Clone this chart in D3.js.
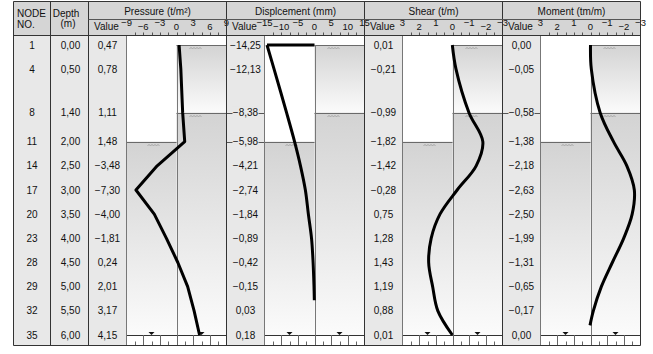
<!DOCTYPE html>
<html>
<head>
<meta charset="utf-8">
<script src="https://cdn.jsdelivr.net/npm/d3@7"></script>
<style>
  body { margin: 0; background: #fff; }
  svg { display: block; font-family: "Liberation Sans", Arial, sans-serif; }
</style>
</head>
<body>
<div id="viz"></div>
<script>
// table rows
const nodes = [1, 4, 8, 11, 14, 17, 20, 23, 28, 29, 32, 35];
const depths = [0.0, 0.5, 1.4, 2.0, 2.5, 3.0, 3.5, 4.0, 4.5, 5.0, 5.5, 6.0];
const pressure = [0.47, 0.78, 1.11, 1.48, -3.48, -7.30, -4.00, -1.81, 0.24, 2.01, 3.17, 4.15];
const displacement = [-14.25, -12.13, -8.38, -5.98, -4.21, -2.74, -1.84, -0.89, -0.42, -0.15, 0.03, 0.18];
const shear = [0.01, -0.21, -0.99, -1.82, -1.42, -0.28, 0.75, 1.28, 1.43, 1.19, 0.88, 0.01];
const moment = [0.00, -0.05, -0.58, -1.38, -2.18, -2.63, -2.50, -1.99, -1.31, -0.65, -0.17, 0.00];

// where the drawn curves stop (depth, value)
const dispCurveEnd = [5.28, -0.05];
const momentCurveEnd = [5.8, 0.03];

// soil layers: retained side tops, excavation side top
const layerTops = [0.0, 1.4];
const excavationDepth = 2.0;

// axis labels in the header
const pressureTicks = [-9, -6, -3, 0, 3, 6, 9];
const dispTicks = [-15, -10, -5, 0, 5, 10, 15];
const shearTicks = [3, 2, 1, 0, -1, -2, -3];
const momentTicks = [3, 2, 1, 0, -1, -2, -3];

const width = 653, height = 354;
const leftX = 13.5, rightX = 640.5, topY = 1.5, headMid = 19.5, headBottom = 35.5, bottomY = 345.5;
const depthX = 50.5, panelX = 88.5;
const panelW = 138, valueW = 38;

const svg = d3.select("#viz").append("svg")
  .attr("width", width)
  .attr("height", height);

const defs = svg.append("defs");
const grad = defs.append("linearGradient")
  .attr("id", "layerGrad")
  .attr("x1", 0).attr("y1", 0).attr("x2", 0).attr("y2", 1);
grad.append("stop").attr("offset", 0).attr("stop-color", "#d3d3d3");
grad.append("stop").attr("offset", 1).attr("stop-color", "#fbfbfb");

const yScale = d3.scaleLinear().domain([0, 6]).range([45, 335]);
const fmt = v => d3.format(".2f")(v).replace(".", ",");
const tickFmt = v => String(v).replace("-", "\u2212");

// body backgrounds for node / depth columns
svg.append("rect")
  .attr("x", leftX).attr("y", headBottom)
  .attr("width", panelX - leftX).attr("height", bottomY - headBottom)
  .attr("fill", "#e8e8e8");

// header background
svg.append("rect")
  .attr("x", leftX).attr("y", topY)
  .attr("width", rightX - leftX).attr("height", headBottom - topY)
  .attr("fill", "#d5d5d5");

svg.append("text").attr("x", 17).attr("y", 17).text("NODE")
  .attr("font-size", "10px").attr("fill", "#111");
svg.append("text").attr("x", 17).attr("y", 28).text("NO.")
  .attr("font-size", "10px").attr("fill", "#111");
svg.append("text").attr("x", 66).attr("y", 17).text("Depth")
  .attr("text-anchor", "middle").attr("font-size", "10px").attr("fill", "#111");
svg.append("text").attr("x", 68).attr("y", 27).text("(m)")
  .attr("text-anchor", "middle").attr("font-size", "10px").attr("fill", "#111");

// node + depth text
svg.append("g")
  .selectAll("text")
  .data(nodes)
  .join("text")
  .text(d => d)
  .attr("x", (leftX + depthX) / 2)
  .attr("y", (d, i) => yScale(depths[i]) + 3.6)
  .attr("text-anchor", "middle")
  .attr("font-size", "10px")
  .attr("fill", "#111");

svg.append("g")
  .selectAll("text")
  .data(depths)
  .join("text")
  .text(d => fmt(d))
  .attr("x", (depthX + panelX) / 2 + 1)
  .attr("y", d => yScale(d) + 3.6)
  .attr("text-anchor", "middle")
  .attr("font-size", "10px")
  .attr("fill", "#111");

const panels = [
  {title: "Pressure (t/m\u00b2)", values: pressure, domain: [-9, 9], ticks: pressureTicks,
   curve: d3.curveLinear, end: null, topBar: false, stubs: []},
  {title: "Displcement (mm)", values: displacement, domain: [-15, 15], ticks: dispTicks,
   curve: d3.curveCatmullRom, end: dispCurveEnd, topBar: true, stubs: [layerTops[1], excavationDepth]},
  {title: "Shear (t/m)", values: shear, domain: [3, -3], ticks: shearTicks,
   curve: d3.curveCatmullRom, end: null, topBar: false, stubs: []},
  {title: "Moment (tm/m)", values: moment, domain: [3, -3], ticks: momentTicks,
   curve: d3.curveCatmullRom, end: momentCurveEnd, topBar: false, stubs: [layerTops[1]]}
];

function wave(x, y) {
  // tiny water-table squiggle
  let p = `M${x},${y}`;
  for (let k = 0; k < 4; k++) p += " q1.5,-1.6 3,0";
  return p;
}

panels.forEach((p, pi) => {
  const x0 = panelX + pi * panelW;
  const px0 = x0 + valueW, px1 = x0 + panelW;
  const g = svg.append("g");
  const xScale = d3.scaleLinear().domain(p.domain).range([px0, px1]);
  const cx = (px0 + px1) / 2;

  // value column + plot backgrounds
  g.append("rect").attr("x", x0).attr("y", headBottom)
    .attr("width", valueW).attr("height", bottomY - headBottom).attr("fill", "#e8e8e8");
  g.append("rect").attr("x", px0).attr("y", headBottom)
    .attr("width", px1 - px0).attr("height", bottomY - headBottom).attr("fill", "#fff");

  // soil layers, retained side (right half)
  const bandTops = layerTops.concat([6]);
  for (let k = 0; k < layerTops.length; k++) {
    g.append("rect")
      .attr("x", cx).attr("y", yScale(bandTops[k]))
      .attr("width", px1 - cx).attr("height", yScale(bandTops[k + 1]) - yScale(bandTops[k]))
      .attr("fill", "url(#layerGrad)");
  }
  // excavation side (left half)
  g.append("rect")
    .attr("x", px0).attr("y", yScale(excavationDepth))
    .attr("width", cx - px0).attr("height", yScale(6) - yScale(excavationDepth))
    .attr("fill", "url(#layerGrad)");

  layerTops.forEach(d => {
    g.append("line").attr("x1", cx).attr("x2", px1)
      .attr("y1", Math.round(yScale(d)) + 0.5).attr("y2", Math.round(yScale(d)) + 0.5)
      .attr("stroke", "#6a6a6a");
    g.append("path").attr("d", wave(cx + 13, Math.round(yScale(d)) + 3.5))
      .attr("fill", "none").attr("stroke", "#9a9a9a").attr("stroke-width", 0.8);
  });
  g.append("line").attr("x1", px0).attr("x2", cx)
    .attr("y1", Math.round(yScale(excavationDepth)) + 0.5).attr("y2", Math.round(yScale(excavationDepth)) + 0.5)
    .attr("stroke", "#6a6a6a");
  g.append("path").attr("d", wave(px0 + 21, Math.round(yScale(excavationDepth)) + 3.5))
    .attr("fill", "none").attr("stroke", "#9a9a9a").attr("stroke-width", 0.8);

  // boundary stubs crossing the value column
  p.stubs.forEach(d => {
    g.append("line").attr("x1", x0).attr("x2", px0)
      .attr("y1", Math.round(yScale(d)) + 0.5).attr("y2", Math.round(yScale(d)) + 0.5)
      .attr("stroke", "#555");
  });

  // centre (zero) line
  g.append("line").attr("x1", Math.round(cx) + 0.5).attr("x2", Math.round(cx) + 0.5)
    .attr("y1", yScale(0)).attr("y2", bottomY)
    .attr("stroke", "#777");

  // bottom ruler
  g.append("line").attr("x1", px0).attr("x2", px1)
    .attr("y1", Math.round(yScale(6)) + 0.5).attr("y2", Math.round(yScale(6)) + 0.5)
    .attr("stroke", "#333");
  g.append("g").selectAll("line")
    .data(d3.range(1, 12))
    .join("line")
    .attr("x1", k => Math.round(px0 + k * (px1 - px0) / 12) + 0.5)
    .attr("x2", k => Math.round(px0 + k * (px1 - px0) / 12) + 0.5)
    .attr("y1", k => k % 2 === 0 ? yScale(6) : bottomY - 4)
    .attr("y2", bottomY)
    .attr("stroke", "#666");

  // base markers
  [0.25, 0.75].forEach(f => {
    const mx = px0 + f * (px1 - px0), my = yScale(6);
    g.append("path")
      .attr("d", `M${mx - 3},${my - 3}L${mx + 3},${my - 3}L${mx},${my}Z`)
      .attr("fill", "#111");
  });

  // curve
  let pts = depths.map((d, i) => [d, p.values[i]]);
  if (p.end) pts = pts.filter(q => q[0] < p.end[0]).concat([p.end]);
  const line = d3.line()
    .x(q => xScale(q[1]))
    .y(q => yScale(q[0]))
    .curve(p.curve);
  if (p.topBar) {
    g.append("line")
      .attr("x1", xScale(0)).attr("x2", xScale(p.values[0]))
      .attr("y1", yScale(depths[0])).attr("y2", yScale(depths[0]))
      .attr("stroke", "#000").attr("stroke-width", 3);
  }
  g.append("path")
    .attr("d", line(pts))
    .attr("fill", "none")
    .attr("stroke", "#000")
    .attr("stroke-width", 3)
    .attr("stroke-linejoin", "round");

  // values
  const vt = g.append("g").selectAll("g")
    .data(p.values)
    .join("g")
    .attr("transform", (d, i) => `translate(${x0 + valueW / 2}, ${yScale(depths[i])})`);
  vt.filter((d, i) => p.stubs.includes(depths[i]))
    .append("rect")
    .attr("x", -13).attr("y", -6).attr("width", 26).attr("height", 12)
    .attr("fill", "#e8e8e8");
  vt.append("text")
    .text(d => fmt(d))
    .attr("y", 3.6)
    .attr("text-anchor", "middle")
    .attr("font-size", "10px")
    .attr("fill", "#111");

  // header
  g.append("text")
    .attr("x", x0 + panelW / 2).attr("y", 14.5)
    .attr("text-anchor", "middle")
    .attr("font-size", "10px")
    .attr("fill", "#111")
    .text(p.title);
  g.append("text")
    .attr("x", x0 + valueW / 2 - 1).attr("y", 30)
    .attr("text-anchor", "middle")
    .attr("font-size", "10px")
    .attr("fill", "#111")
    .text("Value");
  g.append("g").selectAll("text")
    .data(p.ticks)
    .join("text")
    .text(d => tickFmt(d))
    .attr("x", d => xScale(d))
    .attr("y", (d, i) => i % 2 === 0 ? 25.5 : 30)
    .attr("text-anchor", "middle")
    .attr("font-size", "9.5px")
    .attr("fill", "#111");
  g.append("g").selectAll("line")
    .data(d3.range(1, 12))
    .join("line")
    .attr("x1", k => Math.round(px0 + k * (px1 - px0) / 12) + 0.5)
    .attr("x2", k => Math.round(px0 + k * (px1 - px0) / 12) + 0.5)
    .attr("y1", headBottom - 3)
    .attr("y2", headBottom)
    .attr("stroke", "#555");

  // cell borders
  g.append("line").attr("x1", px0).attr("x2", px0)
    .attr("y1", headBottom).attr("y2", bottomY)
    .attr("stroke", "#777");
});

// grid / frame lines
const vLines = [leftX, depthX, panelX].concat(panels.map((p, i) => panelX + (i + 1) * panelW));
svg.append("g").selectAll("line")
  .data(vLines)
  .join("line")
  .attr("x1", d => d).attr("x2", d => d)
  .attr("y1", topY).attr("y2", bottomY)
  .attr("stroke", "#333");

svg.append("line").attr("x1", panelX).attr("x2", rightX)
  .attr("y1", headMid).attr("y2", headMid).attr("stroke", "#555");
[topY, headBottom, bottomY].forEach(yy => {
  svg.append("line").attr("x1", leftX).attr("x2", rightX)
    .attr("y1", yy).attr("y2", yy).attr("stroke", "#333");
});
</script>
</body>
</html>
